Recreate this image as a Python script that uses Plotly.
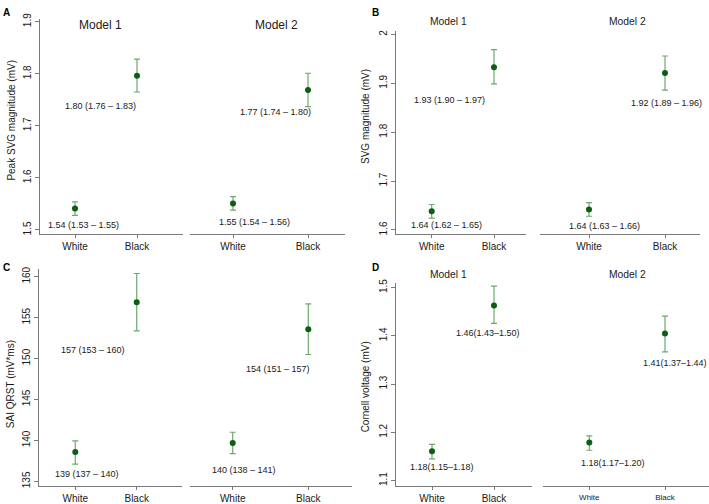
import plotly.graph_objects as go

W, H = 709, 504

categories = ["White", "Black"]

# Panel A: Peak SVG magnitude (mV)
A_m1 = [1.541, 1.796]; A_m1_lo = [1.528, 1.765]; A_m1_hi = [1.554, 1.828]
A_m2 = [1.551, 1.769]; A_m2_lo = [1.538, 1.737]; A_m2_hi = [1.564, 1.801]
A_m1_txt = ["1.54 (1.53 – 1.55)", "1.80 (1.76 – 1.83)"]
A_m2_txt = ["1.55 (1.54 – 1.56)", "1.77 (1.74 – 1.80)"]
A_ticks = [1.5, 1.6, 1.7, 1.8, 1.9]
A_ticktext = ["1.5", "1.6", "1.7", "1.8", "1.9"]

# Panel B: SVG magnitude (mV)
B_m1 = [1.638, 1.933]; B_m1_lo = [1.624, 1.899]; B_m1_hi = [1.652, 1.969]
B_m2 = [1.642, 1.921]; B_m2_lo = [1.628, 1.886]; B_m2_hi = [1.656, 1.956]
B_m1_txt = ["1.64 (1.62 – 1.65)", "1.93 (1.90 – 1.97)"]
B_m2_txt = ["1.64 (1.63 – 1.66)", "1.92 (1.89 – 1.96)"]
B_ticks = [1.6, 1.7, 1.8, 1.9, 2.0]
B_ticktext = ["1.6", "1.7", "1.8", "1.9", "2"]

# Panel C: SAI QRST (mV*ms)
C_m1 = [138.6, 156.9]; C_m1_lo = [137.1, 153.4]; C_m1_hi = [139.95, 160.4]
C_m2 = [139.7, 153.6]; C_m2_lo = [138.4, 150.5]; C_m2_hi = [141.0, 156.7]
C_m1_txt = ["139 (137 – 140)", "157 (153 – 160)"]
C_m2_txt = ["140 (138 – 141)", "154 (151 – 157)"]
C_ticks = [135, 140, 145, 150, 155, 160]
C_ticktext = ["135", "140", "145", "150", "155", "160"]

# Panel D: Cornell voltage (mV)
D_m1 = [1.161, 1.463]; D_m1_lo = [1.145, 1.426]; D_m1_hi = [1.175, 1.503]
D_m2 = [1.179, 1.405]; D_m2_lo = [1.163, 1.367]; D_m2_hi = [1.193, 1.441]
D_m1_txt = ["1.18(1.15–1.18)", "1.46(1.43–1.50)"]
D_m2_txt = ["1.18(1.17–1.20)", "1.41(1.37–1.44)"]
D_ticks = [1.1, 1.2, 1.3, 1.4, 1.5]
D_ticktext = ["1.1", "1.2", "1.3", "1.4", "1.5"]

FONT = "Liberation Sans, Arial, Helvetica, sans-serif"
MARKER = "#0b5f12"
ERR = "#6ea86e"
AXC = "#7a7a7a"
TXT = "#1a1a1a"


def px(p):
    return p / W


def py(p):
    return 1 - p / H


def xrange_for(a, b, w, k):
    u = k - w
    return [(a - w) / u, (b - w) / u]


def yrange_for(v_lo, p_lo, v_hi, p_hi, pt, pb):
    s = (p_lo - p_hi) / (v_hi - v_lo)
    return [v_lo - (pb - p_lo) / s, v_hi + (p_hi - pt) / s]


fig = go.Figure()

panels = []

yA = yrange_for(1.5, 228, 1.9, 16, 13, 232)
yB = yrange_for(1.6, 228, 2.0, 29, 25, 232)
yC = yrange_for(135, 484, 160, 275.7, 268, 488.7)
yD = yrange_for(1.1, 483.3, 1.5, 286.7, 281.7, 488.7)

panels.append((A_m1, A_m1_lo, A_m1_hi, A_m1_txt, (40, 183), 75, 137, (13, 232), yA, A_ticks, A_ticktext, True,
               [(8, 16), (-36.5, 30)], 10))
panels.append((A_m2, A_m2_lo, A_m2_hi, A_m2_txt, (190, 345), 233, 308, (13, 232), yA, A_ticks, A_ticktext, False,
               [(21, 19), (-32.5, 21.6)], 10))
panels.append((B_m1, B_m1_lo, B_m1_hi, B_m1_txt, (396, 526), 431.7, 494, (25, 232), yB, B_ticks, B_ticktext, True,
               [(15, 14), (-44.3, 32.4)], 10))
panels.append((B_m2, B_m2_lo, B_m2_hi, B_m2_txt, (540, 700), 589, 665, (25, 232), yB, B_ticks, B_ticktext, False,
               [(15, 17), (1.3, 30.4)], 10))
panels.append((C_m1, C_m1_lo, C_m1_hi, C_m1_txt, (39, 182), 75.3, 136.7, (268, 488.7), yC, C_ticks, C_ticktext, True,
               [(12, 22.4), (-44, 47.6)], 10))
panels.append((C_m2, C_m2_lo, C_m2_hi, C_m2_txt, (190, 352), 232.7, 308.3, (268, 488.7), yC, C_ticks, C_ticktext, False,
               [(11.5, 27.6), (-30.5, 39.6)], 10))
panels.append((D_m1, D_m1_lo, D_m1_hi, D_m1_txt, (396, 532), 432, 494, (281.7, 488.7), yD, D_ticks, D_ticktext, True,
               [(9.7, 16), (-6, 28)], 10))
panels.append((D_m2, D_m2_lo, D_m2_hi, D_m2_txt, (542.7, 709), 589.3, 665, (281.7, 488.7), yD, D_ticks, D_ticktext, False,
               [(23.2, 20.3), (10.3, 29.6)], 8))

annotations = []
layout = {}
for i, (vals, lo, hi, txt, xd, wp, kp, yd, yr, tv, tt, showy, shifts, xfs) in enumerate(panels):
    n = "" if i == 0 else str(i + 1)
    xa, ya = "x" + n, "y" + n
    fig.add_trace(go.Scatter(
        x=categories, y=vals, mode="markers",
        marker=dict(color=MARKER, size=6),
        error_y=dict(type="data", symmetric=False,
                     array=[h - v for h, v in zip(hi, vals)],
                     arrayminus=[v - l for v, l in zip(vals, lo)],
                     color=ERR, thickness=1.2, width=3),
        xaxis=xa, yaxis=ya, showlegend=False, hoverinfo="skip"))
    layout["xaxis" + n] = dict(
        domain=[px(xd[0]), px(xd[1])], range=xrange_for(xd[0], xd[1], wp, kp),
        type="category", anchor=ya, showline=True, linecolor=AXC, linewidth=1,
        ticks="outside", ticklen=3, tickcolor=AXC, showgrid=False, zeroline=False,
        tickfont=dict(family=FONT, size=xfs, color=TXT), fixedrange=True)
    layout["yaxis" + n] = dict(
        domain=[py(yd[1]), py(yd[0])], range=yr, anchor=xa,
        showline=showy, linecolor=AXC, linewidth=1,
        ticks="outside" if showy else "", ticklen=4, tickcolor=AXC,
        showticklabels=showy, tickvals=tv, ticktext=tt, tickangle=-90,
        showgrid=False, zeroline=False,
        tickfont=dict(family=FONT, size=10, color=TXT), fixedrange=True)
    for j, cat in enumerate(categories):
        annotations.append(dict(
            x=cat, y=vals[j], xref=xa, yref=ya, text=txt[j], showarrow=False,
            xshift=shifts[j][0], yshift=-shifts[j][1],
            font=dict(family=FONT, size=9, color=TXT)))

# Model titles
model_titles = ["Model 1", "Model 2"]
for (x1, x2, yy, fs) in [(100.3, 276, 19, 12), (448.3, 627.7, 16, 10.3), (448.3, 627.7, 273.3, 10.3)]:
    for xx, t in zip((x1, x2), model_titles):
        annotations.append(dict(x=px(xx), y=py(yy), xref="paper", yref="paper", text=t,
                                showarrow=False, xanchor="center", yanchor="middle",
                                font=dict(family=FONT, size=fs, color=TXT)))

# Y-axis titles
y_titles = ["Peak SVG magnitude (mV)", "SVG magnitude (mV)", "SAI QRST (mV*ms)", "Cornell voltage (mV)"]
for t, (xx, yy) in zip(y_titles, [(12, 116.7), (365.7, 112.3), (10, 385), (365, 388.3)]):
    annotations.append(dict(x=px(xx), y=py(yy), xref="paper", yref="paper", text=t,
                            showarrow=False, textangle=-90, xanchor="center", yanchor="middle",
                            font=dict(family=FONT, size=10, color=TXT)))

# Panel letters
letters = ["A", "B", "C", "D"]
for t, (xx, yy) in zip(letters, [(6, 7), (376, 7), (6, 266), (376, 266)]):
    annotations.append(dict(x=px(xx), y=py(yy), xref="paper", yref="paper", text="<b>" + t + "</b>",
                            showarrow=False, xanchor="center", yanchor="middle",
                            font=dict(family=FONT, size=10, color="#000")))

fig.update_layout(
    width=W, height=H, margin=dict(l=0, r=0, t=0, b=0),
    paper_bgcolor="white", plot_bgcolor="white",
    annotations=annotations, **layout)

fig.write_html("out.html", config={"displayModeBar": False},
               post_script="document.body.style.margin='0';document.body.style.overflow='hidden';")
